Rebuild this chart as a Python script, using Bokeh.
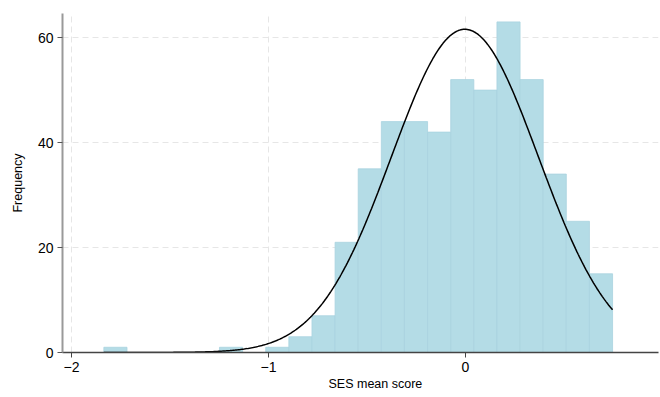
import numpy as np
from bokeh.plotting import figure
from bokeh.models import FixedTicker, Range1d, Title
from bokeh.embed import file_html
from bokeh.resources import INLINE

# Histogram data (22 bins)
bin_start = -1.836
bin_width = 0.1174
counts = [1, 0, 0, 0, 0, 1, 0, 1, 3, 7, 21, 35, 44, 44, 42, 52, 50, 63, 52, 34, 25, 15]

# Normal fit parameters
fit_mean = -0.003
fit_sd = 0.3726

x_ticks = [-2, -1, 0]
y_ticks = [0, 20, 40, 60]

n_total = sum(counts)
lefts = [bin_start + i * bin_width for i in range(len(counts))]
rights = [l + bin_width for l in lefts]
data_min = lefts[0]
data_max = rights[-1]

p = figure(width=660, height=397, output_backend="svg", toolbar_location=None,
           x_range=Range1d(-2.046, 0.98), y_range=Range1d(0, 64.6),
           min_border_left=62, min_border_right=2, min_border_top=13, min_border_bottom=45)
p.outline_line_color = None
p.background_fill_color = "white"

p.quad(left=lefts, right=rights, bottom=0, top=counts,
       fill_color="#b4dce6", line_color="#a9d3df", line_width=0.8)

xs = np.linspace(data_min, data_max, 400)
ys = n_total * bin_width / (fit_sd * np.sqrt(2 * np.pi)) * np.exp(-0.5 * ((xs - fit_mean) / fit_sd) ** 2)
p.line(xs, ys, line_color="black", line_width=1.5)

p.xaxis.ticker = FixedTicker(ticks=x_ticks)
p.yaxis.ticker = FixedTicker(ticks=y_ticks)
p.yaxis.axis_label = "Frequency"

for ax in (p.xaxis, p.yaxis):
    ax.major_label_text_font = "Liberation Sans"
    ax.major_label_text_font_size = "14px"
    ax.major_label_text_color = "black"
    ax.axis_label_text_font = "Liberation Sans"
    ax.axis_label_text_font_size = "12.5px"
    ax.axis_label_text_font_style = "normal"
    ax.axis_label_text_color = "black"
    ax.minor_tick_line_color = None
    ax.major_tick_out = 5
    ax.major_tick_in = 0
    ax.major_label_standoff = 4

xlab = Title(text="SES mean score", align="left", offset=266, standoff=0,
             text_font="Liberation Sans", text_font_size="12.5px",
             text_font_style="normal", text_color="black")
p.add_layout(xlab, "below")

p.xaxis.axis_line_color = "#444444"
p.xaxis.axis_line_width = 1.5
p.xaxis.major_tick_line_color = "#444444"
p.yaxis.axis_line_color = "#999999"
p.yaxis.axis_line_width = 2
p.yaxis.major_tick_line_color = "#555555"
p.yaxis.major_label_orientation = "horizontal"
p.yaxis.axis_label_standoff = 10

p.xgrid.grid_line_color = "#e6e6e6"
p.xgrid.grid_line_dash = "6 4"
p.ygrid.grid_line_color = "#e6e6e6"
p.ygrid.grid_line_dash = "6 4"
p.ygrid.ticker = FixedTicker(ticks=[20, 40, 60])

open("out.html", "w").write(file_html(p, INLINE))
